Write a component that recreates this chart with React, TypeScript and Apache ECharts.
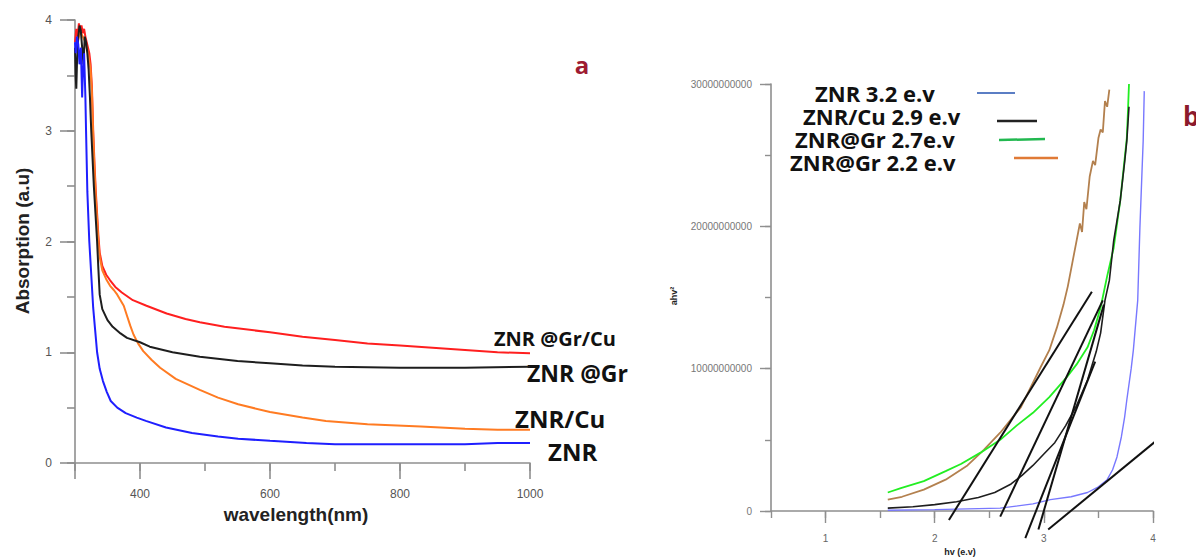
import React, { useEffect, useRef } from "react";
import * as echarts from "echarts";

// ---- Panel a: absorption vs wavelength (nm) ----
const absGrCu: [number, number][] = [
  [300, 3.8], [302, 3.92], [304, 3.85], [306, 3.97], [308, 3.9], [310, 3.95], [312, 3.88], [314, 3.92],
  [316, 3.85], [318, 3.8], [320, 3.75], [322, 3.7], [324, 3.6], [326, 3.4], [328, 3.0], [330, 2.7],
  [332, 2.45], [334, 2.25], [336, 2.05], [338, 1.9], [342, 1.78], [348, 1.7], [354, 1.65], [362, 1.59],
  [372, 1.54], [389, 1.47], [410, 1.42], [441, 1.35], [470, 1.3], [492, 1.27], [530, 1.23], [600, 1.18],
  [650, 1.14], [700, 1.11], [750, 1.08], [800, 1.06], [850, 1.04], [900, 1.02], [950, 1.0], [1000, 0.99],
];
const absGr: [number, number][] = [
  [300, 3.75], [301, 3.5], [302, 3.38], [303, 3.6], [305, 3.85], [307, 3.95], [309, 3.9], [311, 3.75],
  [313, 3.6], [315, 3.85], [317, 3.8], [319, 3.7], [321, 3.55], [323, 3.3], [325, 3.0], [327, 2.75],
  [329, 2.5], [331, 2.3], [334, 2.0], [336, 1.75], [338, 1.52], [342, 1.39], [350, 1.29], [358, 1.23],
  [370, 1.17], [380, 1.13], [400, 1.09], [415, 1.05], [450, 1.0], [492, 0.96], [550, 0.92], [600, 0.9],
  [650, 0.88], [700, 0.87], [800, 0.86], [900, 0.86], [1000, 0.87],
];
const absCu: [number, number][] = [
  [300, 3.7], [304, 3.8], [308, 3.9], [312, 3.85], [316, 3.8], [320, 3.7], [324, 3.55], [326, 3.35],
  [328, 2.95], [330, 2.65], [332, 2.4], [334, 2.2], [336, 2.0], [338, 1.86], [342, 1.74], [348, 1.66],
  [354, 1.6], [360, 1.56], [365, 1.52], [370, 1.47], [375, 1.42], [380, 1.33], [385, 1.24], [390, 1.16],
  [397, 1.08], [405, 1.01], [418, 0.93], [431, 0.86], [455, 0.76], [492, 0.66], [520, 0.59], [551, 0.53],
  [600, 0.46], [650, 0.41], [686, 0.38], [750, 0.35], [832, 0.33], [900, 0.31], [950, 0.3], [1000, 0.3],
];
const absZnr: [number, number][] = [
  [300, 3.8], [301, 3.7], [303, 3.85], [305, 3.78], [307, 3.6], [309, 3.75], [311, 3.3], [312, 3.5],
  [314, 3.7], [316, 3.3], [317, 3.0], [319, 2.45], [322, 2.0], [325, 1.7], [328, 1.4], [331, 1.2],
  [334, 1.0], [338, 0.85], [343, 0.74], [349, 0.64], [355, 0.56], [365, 0.5], [378, 0.45], [395, 0.41],
  [409, 0.38], [440, 0.32], [480, 0.27], [520, 0.24], [551, 0.22], [600, 0.2], [656, 0.18], [700, 0.17],
  [774, 0.17], [850, 0.17], [900, 0.17], [950, 0.18], [1000, 0.18],
];
const panelALabels = ["ZNR @Gr/Cu", "ZNR @Gr", "ZNR/Cu", "ZNR"];
const panelAXLabels = [400, 600, 800, 1000];
const panelAXMajor = [300, 400, 600, 800, 1000];

// ---- Panel b: (a h v)^2 (units of 1e10) vs h v (eV) ----
const tGr22: [number, number][] = [
  [1.57, 0.08], [1.7, 0.1], [1.9, 0.15], [2.1, 0.22], [2.3, 0.32], [2.45, 0.43], [2.6, 0.55], [2.79, 0.73],
  [2.97, 1.01], [3.05, 1.13], [3.12, 1.29], [3.18, 1.45], [3.22, 1.58], [3.27, 1.78], [3.3, 1.9],
  [3.33, 2.02], [3.35, 1.96], [3.37, 2.17], [3.39, 2.12], [3.42, 2.35], [3.45, 2.46], [3.47, 2.43],
  [3.5, 2.62], [3.52, 2.68], [3.54, 2.66], [3.56, 2.88], [3.58, 2.84], [3.6, 2.96],
];
const tGr27: [number, number][] = [
  [1.57, 0.13], [1.69, 0.16], [1.9, 0.21], [2.1, 0.28], [2.24, 0.33], [2.42, 0.41], [2.6, 0.5], [2.75, 0.6],
  [2.9, 0.69], [3.05, 0.8], [3.21, 0.94], [3.3, 1.03], [3.4, 1.15], [3.46, 1.27], [3.52, 1.43], [3.58, 1.65],
  [3.64, 1.85], [3.7, 2.18], [3.73, 2.4], [3.76, 2.62], [3.77, 2.8], [3.78, 3.0],
];
const tCu29: [number, number][] = [
  [1.57, 0.02], [1.8, 0.03], [2.0, 0.045], [2.2, 0.065], [2.4, 0.095], [2.55, 0.13], [2.7, 0.19],
  [2.8, 0.25], [2.9, 0.32], [3.0, 0.4], [3.1, 0.48], [3.2, 0.6], [3.3, 0.74], [3.4, 0.92], [3.48, 1.12],
  [3.52, 1.25], [3.56, 1.48], [3.6, 1.62], [3.64, 1.9], [3.7, 2.18], [3.74, 2.45], [3.76, 2.6], [3.78, 2.84],
];
const tZnr32: [number, number][] = [
  [1.57, 0.005], [2.0, 0.01], [2.6, 0.02], [2.9, 0.05], [3.06, 0.08], [3.25, 0.1], [3.4, 0.13], [3.5, 0.17],
  [3.58, 0.22], [3.63, 0.29], [3.67, 0.38], [3.71, 0.52], [3.74, 0.66], [3.76, 0.78], [3.8, 1.0],
  [3.82, 1.13], [3.86, 1.48], [3.88, 1.99], [3.9, 2.4], [3.91, 2.6], [3.92, 2.95],
];
const tangentLines: [number, number][][] = [
  [[2.13, -0.063], [3.44, 1.54]],
  [[2.6, -0.04], [3.54, 1.48]],
  [[2.83, -0.19], [3.47, 1.05]],
  [[2.95, -0.13], [3.55, 1.45]],
  [[3.04, -0.13], [4.04, 0.5]],
];
const panelBLegend = ["ZNR 3.2 e.v", "ZNR/Cu 2.9 e.v", "ZNR@Gr 2.7e.v", "ZNR@Gr 2.2 e.v"];
const panelBXMajor = [1, 2, 3, 4];
const panelBYLabels = [0, 1, 2, 3];

const GREY = "#8f8f8f";
const LABEL_FONT = '"Open Sans", sans-serif';

export default function App() {
  const ref = useRef<HTMLDivElement>(null);
  useEffect(() => {
    if (!ref.current) return;
    const chart = echarts.init(ref.current, undefined, { renderer: "svg" });
    const lineSeries = (name: string, data: [number, number][], color: string, width: number, xi: number, yi: number, clip = true) => ({
      name,
      type: "line",
      data,
      xAxisIndex: xi,
      yAxisIndex: yi,
      showSymbol: false,
      symbol: "none",
      smooth: false,
      clip,
      lineStyle: { color, width },
      itemStyle: { color },
      z: 3,
    });
    const axisCommon = { splitLine: { show: false } };
    const txt = (text: string, x: number, y: number, font: string, fill = "#111", extra: any = {}) => ({
      type: "text", x, y, ...extra,
      style: { text, font, fill, textAlign: "left", textVerticalAlign: "middle", lineHeight: 18 },
    });
    const option: any = {
      animation: false,
      backgroundColor: "#ffffff",
      grid: [
        { left: 75, top: 20, width: 455, height: 443 },
        { left: 771, top: 84, width: 382, height: 427 },
      ],
      xAxis: [
        {
          ...axisCommon, gridIndex: 0, type: "value", min: 300, max: 1000, interval: 100,
          axisLine: { lineStyle: { color: GREY, width: 1.6 } },
          axisTick: { length: 8, lineStyle: { color: GREY, width: 1.6 } },
          axisLabel: { customValues: panelAXLabels, color: "#555", fontSize: 12, fontFamily: "Arial", margin: 25, formatter: (v: number) => String(v) },
        },
        {
          ...axisCommon, gridIndex: 0, type: "value", min: 300, max: 1000, position: "bottom",
          axisLine: { show: false },
          axisTick: { customValues: panelAXMajor, length: 16, lineStyle: { color: GREY, width: 1.6 } },
          axisLabel: { show: false },
        },
        {
          ...axisCommon, gridIndex: 1, type: "value", min: 0.5, max: 4, interval: 0.5,
          axisLine: { lineStyle: { color: GREY, width: 1.6 } },
          axisTick: { length: 7, lineStyle: { color: GREY, width: 1.4 } },
          axisLabel: { customValues: panelBXMajor, color: "#666", fontSize: 10, fontFamily: "Arial", margin: 22, formatter: (v: number) => String(v) },
        },
        {
          ...axisCommon, gridIndex: 1, type: "value", min: 0.5, max: 4, position: "bottom",
          axisLine: { show: false },
          axisTick: { customValues: panelBXMajor, length: 12, lineStyle: { color: GREY, width: 1.4 } },
          axisLabel: { show: false },
        },
      ],
      yAxis: [
        {
          ...axisCommon, gridIndex: 0, type: "value", min: 0, max: 4, interval: 0.5, position: "left",
          axisLine: { show: true, lineStyle: { color: GREY, width: 1.6 } },
          axisTick: { show: true, length: 8, lineStyle: { color: GREY, width: 1.6 } },
          axisLabel: { color: "#555", fontSize: 12, fontFamily: "Arial", margin: 23, formatter: (v: number) => (Number.isInteger(v) ? String(v) : "") },
        },
        {
          ...axisCommon, gridIndex: 0, type: "value", min: 0, max: 4, interval: 1, position: "left",
          axisLine: { show: false },
          axisTick: { show: true, length: 15, lineStyle: { color: GREY, width: 1.6 } },
          axisLabel: { show: false },
        },
        {
          ...axisCommon, gridIndex: 1, type: "value", min: 0, max: 3, interval: 0.5, position: "left",
          axisLine: { show: true, lineStyle: { color: GREY, width: 1.6 } },
          axisTick: { show: true, length: 6, lineStyle: { color: GREY, width: 1.4 } },
          axisLabel: {
            customValues: panelBYLabels, color: "#777", fontSize: 10, fontFamily: "Arial", margin: 19,
            formatter: (v: number) => (v === 0 ? "0" : String(Math.round(v) * 1e10)),
          },
        },
        {
          ...axisCommon, gridIndex: 1, type: "value", min: 0, max: 3, interval: 1, position: "left",
          axisLine: { show: false },
          axisTick: { show: true, length: 11, lineStyle: { color: GREY, width: 1.4 } },
          axisLabel: { show: false },
        },
      ],
      series: [
        lineSeries("ZNR @Gr/Cu", absGrCu, "#ff1f1f", 2, 0, 0),
        lineSeries("ZNR/Cu", absCu, "#ff7b22", 2, 0, 0),
        lineSeries("ZNR @Gr", absGr, "#1e1e1e", 2, 0, 0),
        lineSeries("ZNR", absZnr, "#1f1fff", 2, 0, 0),
        lineSeries("ZNR@Gr 2.2 e.v", tGr22, "#b3804e", 1.8, 2, 2, false),
        lineSeries("ZNR@Gr 2.7e.v", tGr27, "#22ee22", 1.8, 2, 2, false),
        lineSeries("ZNR/Cu 2.9 e.v", tCu29, "#1e1e1e", 1.6, 2, 2, false),
        lineSeries("ZNR 3.2 e.v", tZnr32, "#7878ff", 1.4, 2, 2, false),
        ...tangentLines.map((seg, i) => lineSeries("tangent" + i, seg, "#111111", 2, 2, 2, false)),
      ],
      graphic: [
        txt(panelALabels[0], 494, 338, `bold 20px ${LABEL_FONT}`),
        txt(panelALabels[1], 527, 373, `bold 23px ${LABEL_FONT}`),
        txt(panelALabels[2], 515, 418, `bold 24px ${LABEL_FONT}`),
        txt(panelALabels[3], 548, 451, `bold 24px ${LABEL_FONT}`),
        { type: "text", x: 582, y: 64, style: { text: "a", font: `bold 24px ${LABEL_FONT}`, fill: "#9e1b32", textAlign: "center", textVerticalAlign: "middle" } },
        { type: "text", x: 1183, y: 116, style: { text: "b", font: `bold 26px ${LABEL_FONT}`, fill: "#8c1a2c", textAlign: "left", textVerticalAlign: "middle" } },
        { type: "text", x: 22, y: 241, rotation: Math.PI / 2, style: { text: "Absorption (a.u)", font: "bold 19px Arial", fill: "#222", textAlign: "center", textVerticalAlign: "middle" } },
        { type: "text", x: 296, y: 514, style: { text: "wavelength(nm)", font: "bold 19px Arial", fill: "#222", textAlign: "center", textVerticalAlign: "middle" } },
        { type: "text", x: 674, y: 296, rotation: Math.PI / 2, style: { text: "ahv²", font: "bold 9px Arial", fill: "#222", textAlign: "center", textVerticalAlign: "middle" } },
        { type: "text", x: 960, y: 552, style: { text: "hv (e.v)", font: "bold 9px Arial", fill: "#222", textAlign: "center", textVerticalAlign: "middle" } },
        txt(panelBLegend[0], 815, 93, `bold 22px ${LABEL_FONT}`),
        txt(panelBLegend[1], 803, 116, `bold 22px ${LABEL_FONT}`),
        txt(panelBLegend[2], 795, 139, `bold 22px ${LABEL_FONT}`),
        txt(panelBLegend[3], 790, 162, `bold 22px ${LABEL_FONT}`),
        { type: "line", shape: { x1: 977, y1: 93, x2: 1015, y2: 93 }, style: { stroke: "#5b7ec4", lineWidth: 2 } },
        { type: "line", shape: { x1: 997, y1: 121, x2: 1037, y2: 121 }, style: { stroke: "#222", lineWidth: 2.5 } },
        { type: "line", shape: { x1: 999, y1: 140, x2: 1045, y2: 139 }, style: { stroke: "#22b850", lineWidth: 2.5 } },
        { type: "line", shape: { x1: 1014, y1: 158, x2: 1058, y2: 158 }, style: { stroke: "#e07a36", lineWidth: 2.5 } },
      ],
    };
    chart.setOption(option);
    return () => chart.dispose();
  }, []);
  return <div ref={ref} style={{ position: "fixed", left: 0, top: 0, width: 1196, height: 559 }} />;
}
